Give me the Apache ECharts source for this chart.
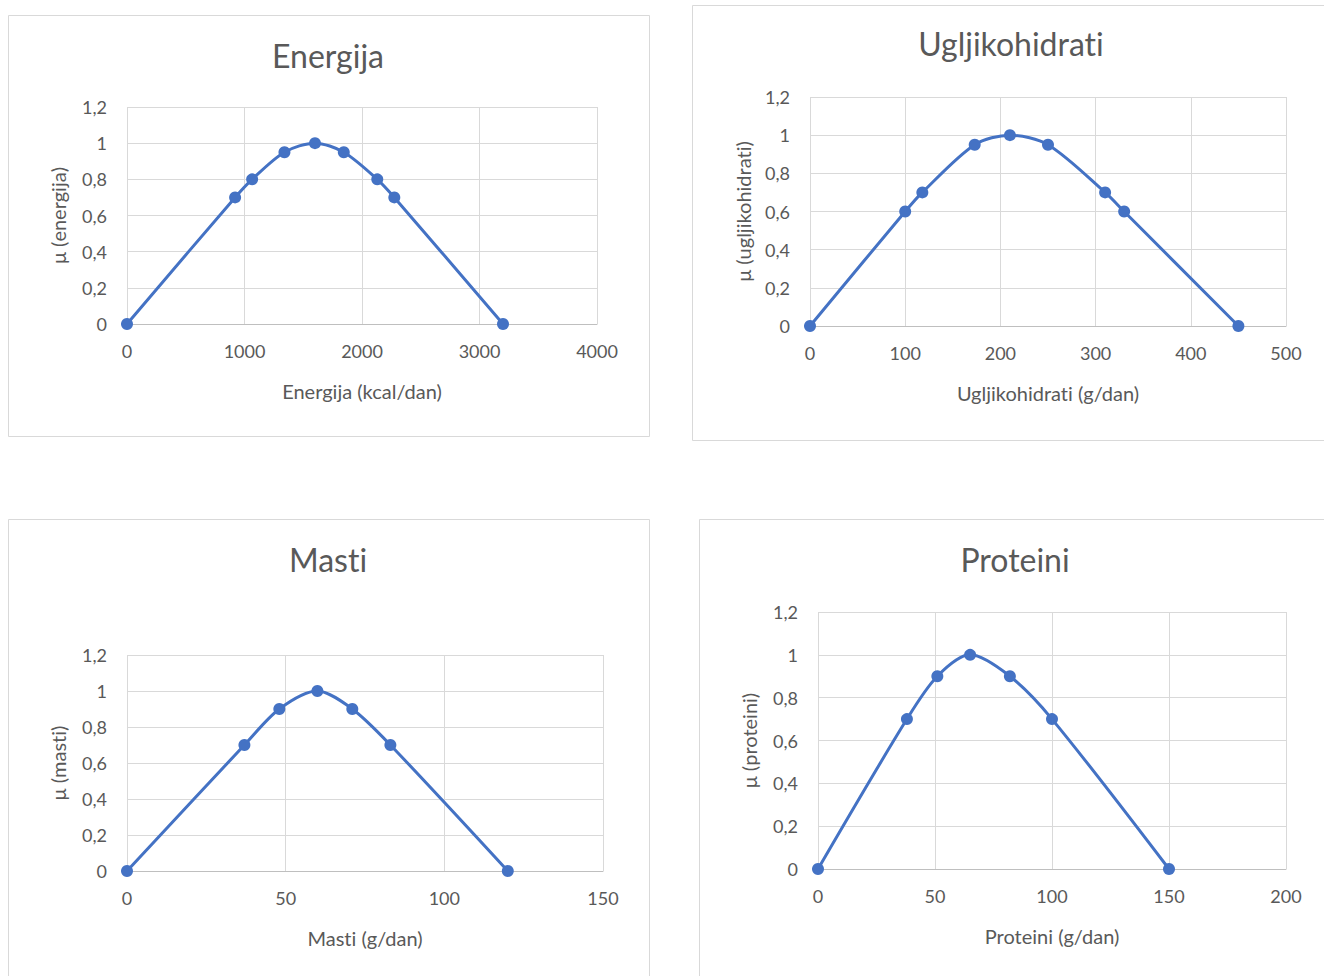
<!DOCTYPE html>
<html><head><meta charset="utf-8">
<script src="https://cdn.jsdelivr.net/npm/echarts@6/dist/echarts.min.js"></script>
<style>html,body{margin:0;padding:0;background:#fff}#c{width:1324px;height:976px}
#c text{font-variant-ligatures:none;font-feature-settings:"liga" 0,"clig" 0;}</style>
</head><body><div id="c"></div>
<script>
// Data
const titles = ['Energija', 'Ugljikohidrati', 'Masti', 'Proteini'];
const xNames = ['Energija (kcal/dan)', 'Ugljikohidrati (g/dan)', 'Masti (g/dan)', 'Proteini (g/dan)'];
const yNames = ['μ (energija)', 'μ (ugljikohidrati)', 'μ (masti)', 'μ (proteini)'];
const xMax = [4000, 500, 150, 200];
const xStep = [1000, 100, 50, 50];
const energijaX = [0, 920, 1065, 1340, 1600, 1845, 2130, 2275, 3200];
const energijaY = [0, 0.7, 0.8, 0.95, 1, 0.95, 0.8, 0.7, 0];
const ugljikohidratiX = [0, 100, 118, 173, 210, 250, 310, 330, 450];
const ugljikohidratiY = [0, 0.6, 0.7, 0.95, 1, 0.95, 0.7, 0.6, 0];
const mastiX = [0, 37, 48, 60, 71, 83, 120];
const mastiY = [0, 0.7, 0.9, 1, 0.9, 0.7, 0];
const proteiniX = [0, 38, 51, 65, 82, 100, 150];
const proteiniY = [0, 0.7, 0.9, 1, 0.9, 0.7, 0];

const seriesX = [energijaX, ugljikohidratiX, mastiX, proteiniX];
const seriesY = [energijaY, ugljikohidratiY, mastiY, proteiniY];

// Layout
const grids = [
  {left: 127, top: 107, width: 470, height: 217},
  {left: 810, top: 97, width: 476, height: 229},
  {left: 127, top: 655, width: 476, height: 216},
  {left: 818, top: 612, width: 468, height: 257}
];
const titlePos = [[328, 55], [1011, 43], [328, 559], [1015, 559]];
const boxes = [[8, 15, 641, 421], [692, 5, 640, 435], [8, 519, 641, 470], [699, 519, 640, 470]];
const yGap = [59, 57, 59, 59];

const FONT = 'Lato';
const TXT = '#595959';
const BLUE = '#4472C4';
const GRID = '#d9d9d9';

const chart = echarts.init(document.getElementById('c'), null, {renderer: 'svg'});
const graphics = boxes.map(b => ({type: 'rect', shape: {x: b[0] + 0.5, y: b[1] + 0.5, width: b[2], height: b[3]}, style: {fill: 'none', stroke: GRID, lineWidth: 1}, silent: true}))
  .concat(titles.map((t, i) => ({
    type: 'text', x: titlePos[i][0], y: titlePos[i][1], silent: true,
    style: {text: t, fontFamily: FONT, fontSize: 32, fill: TXT, align: 'center', verticalAlign: 'middle'}
  })));
const option = {
  backgroundColor: '#fff',
  animation: false,
  textStyle: {fontFamily: FONT},
  graphic: graphics,
  grid: grids.map(g => Object.assign({containLabel: false}, g)),
  xAxis: grids.map((g, i) => ({
    type: 'value', gridIndex: i, min: 0, max: xMax[i], interval: xStep[i],
    name: xNames[i], nameLocation: 'middle', nameGap: 57,
    nameTextStyle: {fontFamily: FONT, fontSize: 20, color: TXT},
    axisLine: {show: true, lineStyle: {color: '#bfbfbf', width: 1}},
    axisTick: {show: false},
    axisLabel: {fontFamily: FONT, fontSize: 18, color: TXT, margin: 18,
      formatter: v => String(v)},
    splitLine: {show: true, lineStyle: {color: GRID, width: 1}}
  })),
  yAxis: grids.map((g, i) => ({
    type: 'value', gridIndex: i, min: 0, max: 1.2, interval: 0.2,
    name: yNames[i], nameLocation: 'middle', nameGap: yGap[i], nameRotate: 90,
    nameTextStyle: {fontFamily: FONT, fontSize: 20, color: TXT},
    axisLine: {show: false},
    axisTick: {show: false},
    axisLabel: {fontFamily: FONT, fontSize: 18, color: TXT, margin: 20,
      formatter: v => String(Math.round(v * 10) / 10).replace('.', ',')},
    splitLine: {show: true, lineStyle: {color: GRID, width: 1}}
  })),
  series: seriesX.map((xs, i) => ({
    type: 'line', xAxisIndex: i, yAxisIndex: i,
    data: xs.map((x, j) => [x, seriesY[i][j]]),
    smooth: 0.3,
    symbol: 'circle', symbolSize: 12,
    itemStyle: {color: BLUE},
    lineStyle: {color: BLUE, width: 3},
    z: 5
  }))
};
chart.setOption(option);
</script>
</body></html>
